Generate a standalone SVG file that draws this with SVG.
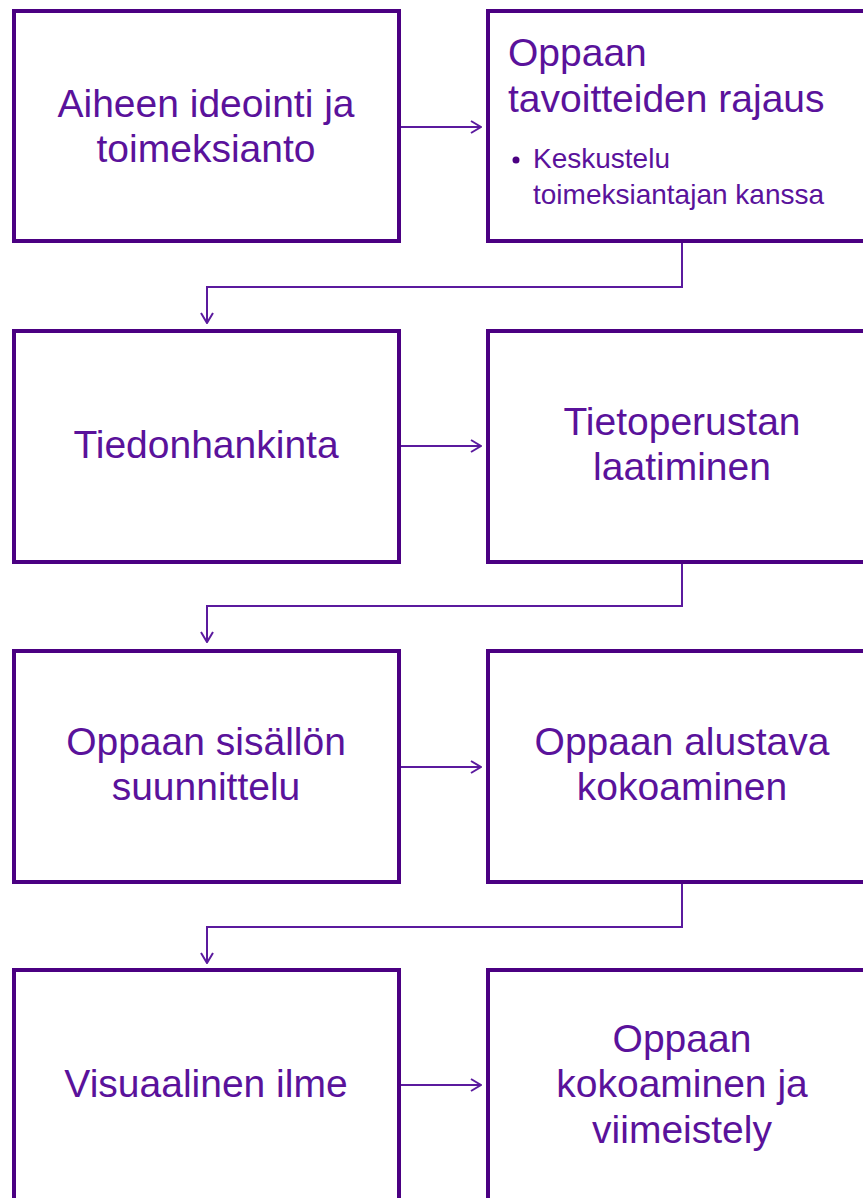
<svg xmlns="http://www.w3.org/2000/svg" width="863" height="1198" viewBox="0 0 863 1198">
<style>
.box{fill:#ffffff;stroke:#4B0082;stroke-width:4}
.t{font-family:"Liberation Sans",Arial,sans-serif;font-size:39px;fill:#5A129B;text-anchor:middle}
.tl{font-family:"Liberation Sans",Arial,sans-serif;font-size:39px;fill:#5A129B}
.ts{font-family:"Liberation Sans",Arial,sans-serif;font-size:28px;fill:#5A129B}
.c{fill:none;stroke:#5B1A9E;stroke-width:2}
</style>
<defs>
<marker id="ah" viewBox="0 0 12 14" refX="11" refY="7" markerWidth="12" markerHeight="14" markerUnits="userSpaceOnUse" orient="auto">
<path d="M1,1 L11,7 L1,13" fill="none" stroke="#5B1A9E" stroke-width="2"/>
</marker>
</defs>
<rect width="863" height="1198" fill="#ffffff"/>
<g id="connectors">
<path class="c" d="M401,127 H481" marker-end="url(#ah)"/>
<path class="c" d="M682,242 V287 H207 V323" marker-end="url(#ah)"/>
<path class="c" d="M401,446 H481" marker-end="url(#ah)"/>
<path class="c" d="M682,562 V606 H207 V642" marker-end="url(#ah)"/>
<path class="c" d="M401,767 H481" marker-end="url(#ah)"/>
<path class="c" d="M682,882 V927 H207 V963" marker-end="url(#ah)"/>
<path class="c" d="M401,1085 H481" marker-end="url(#ah)"/>
</g>
<g id="n1"><rect class="box" x="14" y="11" width="385" height="230"/>
<text class="t" x="206" y="117">Aiheen ideointi ja</text><text class="t" x="206" y="162">toimeksianto</text></g>
<g id="n2"><rect class="box" x="488" y="11" width="380" height="230"/>
<text class="tl" x="508" y="66">Oppaan</text><text class="tl" x="508" y="112">tavoitteiden rajaus</text>
<circle cx="516" cy="160" r="3.5" fill="#4B0082"/>
<text class="ts" x="533" y="168">Keskustelu</text><text class="ts" x="533" y="204">toimeksiantajan kanssa</text></g>
<g id="n3"><rect class="box" x="14" y="331" width="385" height="231"/>
<text class="t" x="206" y="458">Tiedonhankinta</text></g>
<g id="n4"><rect class="box" x="488" y="331" width="380" height="231"/>
<text class="t" x="682" y="435">Tietoperustan</text><text class="t" x="682" y="480">laatiminen</text></g>
<g id="n5"><rect class="box" x="14" y="651" width="385" height="231"/>
<text class="t" x="206" y="755">Oppaan sisällön</text><text class="t" x="206" y="800">suunnittelu</text></g>
<g id="n6"><rect class="box" x="488" y="651" width="380" height="231"/>
<text class="t" x="682" y="755">Oppaan alustava</text><text class="t" x="682" y="800">kokoaminen</text></g>
<g id="n7"><rect class="box" x="14" y="970" width="385" height="240"/>
<text class="t" x="206" y="1097">Visuaalinen ilme</text></g>
<g id="n8"><rect class="box" x="488" y="970" width="380" height="240"/>
<text class="t" x="682" y="1052">Oppaan</text><text class="t" x="682" y="1097">kokoaminen ja</text><text class="t" x="682" y="1143">viimeistely</text></g>
</svg>
